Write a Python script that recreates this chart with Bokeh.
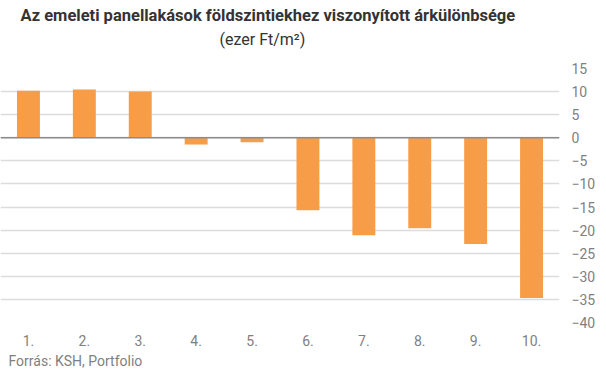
from bokeh.plotting import figure
from bokeh.models import FactorRange, Range1d, Span, Title, FixedTicker
from bokeh.embed import file_html
from bokeh.resources import INLINE

categories = ["1.", "2.", "3.", "4.", "5.", "6.", "7.", "8.", "9.", "10."]
values = [10.2, 10.45, 10.0, -1.45, -0.95, -15.7, -21.1, -19.6, -23.0, -34.7]
y_ticks = [-40, -35, -30, -25, -20, -15, -10, -5, 0, 5, 10, 15]

title_text = "Az emeleti panellakások földszintiekhez viszonyított árkülönbsége"
subtitle_text = "(ezer Ft/m²)"
source_text = "Forrás: KSH, Portfolio"

FONT = "Roboto"
LABEL_COLOR = "#7f7f7f"
W, H = 598, 371

p = figure(
    width=W, height=H,
    x_range=FactorRange(*categories, range_padding=0),
    y_range=Range1d(-40, 15),
    output_backend="svg", toolbar_location=None,
    y_axis_location="right",
    min_border_left=0, min_border_right=36, min_border_top=0, min_border_bottom=0,
)
p.outline_line_color = None
p.background_fill_color = "white"
p.border_fill_color = "white"

p.vbar(x=categories, top=values, width=0.41, color="#F79C47", line_color=None)

p.add_layout(Span(location=0, dimension="width", line_color="#8c8c8c", line_width=1.5))

# grid
p.xgrid.grid_line_color = None
p.ygrid.grid_line_color = "#dcdcdc"
p.ygrid.grid_line_width = 1.3

# y axis
p.yaxis.ticker = FixedTicker(ticks=y_ticks)
p.yaxis.axis_line_color = None
p.yaxis.major_tick_line_color = None
p.yaxis.minor_tick_line_color = None
p.yaxis.major_tick_out = 0
p.yaxis.major_tick_in = 0
p.yaxis.major_label_text_color = LABEL_COLOR
p.yaxis.major_label_text_font = FONT
p.yaxis.major_label_text_font_size = "14px"
p.yaxis.major_label_standoff = 12

# x axis
p.xaxis.axis_line_color = None
p.xaxis.major_tick_line_color = None
p.xaxis.major_tick_out = 0
p.xaxis.major_tick_in = 0
p.xaxis.major_label_text_color = LABEL_COLOR
p.xaxis.major_label_text_font = FONT
p.xaxis.major_label_text_font_size = "14px"
p.xaxis.major_label_standoff = 12

# titles (first added sits closest to the plot)
spacer = Title(text=" ", text_font=FONT, text_font_size="15.5px", standoff=0)
sub = Title(text=subtitle_text, align="left", offset=219, text_font=FONT, text_font_size="16px",
            text_font_style="normal", text_color="#333333", standoff=0)
main = Title(text=title_text, align="left", offset=20, text_font=FONT, text_font_size="16.5px",
             text_font_style="bold", text_color="#333333", standoff=6)
p.add_layout(spacer, "above")
p.add_layout(sub, "above")
p.add_layout(main, "above")

foot = Title(text=source_text, align="left", offset=8, text_font=FONT, text_font_size="14px",
             text_font_style="normal", text_color=LABEL_COLOR, standoff=5)
p.add_layout(foot, "below")

open("out.html", "w").write(file_html(p, INLINE))
